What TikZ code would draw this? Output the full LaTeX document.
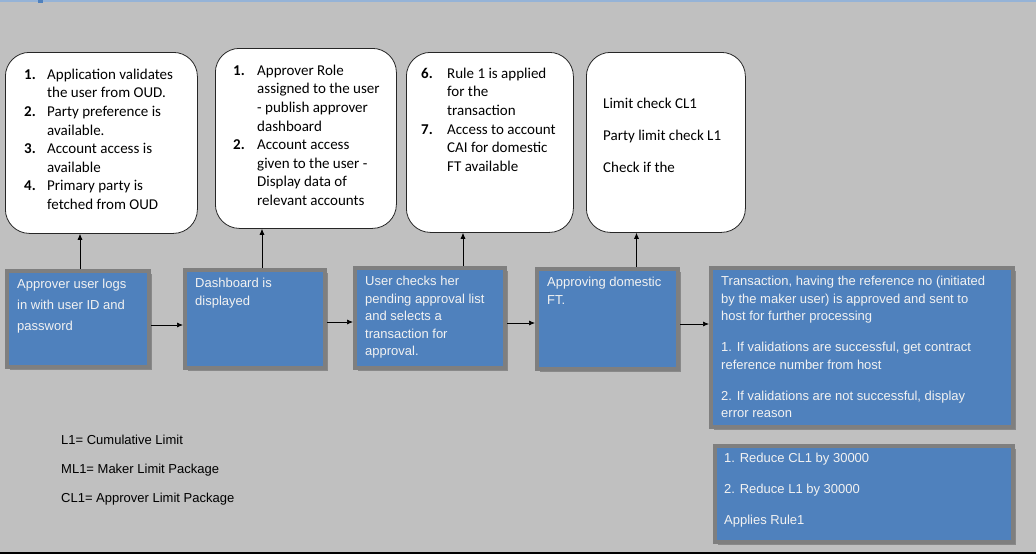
\documentclass[tikz,border=0pt]{standalone}
\usepackage{array}
\usepackage{fontspec}
\setmainfont{Carlito}
\newfontfamily\arialfont{Liberation Sans}
\usetikzlibrary{shadows,arrows.meta}

\definecolor{pagegray}{RGB}{192,192,192}
\definecolor{boxblue}{RGB}{79,129,189}
\definecolor{rimgray}{RGB}{127,127,127}
\definecolor{topblue}{RGB}{149,179,215}
\definecolor{boxtext}{RGB}{242,242,242}

\tikzset{
  callout/.style={draw=black!85, line width=0.8pt, fill=white, rounded corners=24pt, anchor=north west, inner sep=0pt},
  stepbox/.style={draw=rimgray, line width=4pt, fill=boxblue, anchor=north west, inner sep=0pt,
    drop shadow={shadow xshift=3pt, shadow yshift=-3pt, fill=rimgray!85!pagegray, opacity=1}},
  notetext/.style={anchor=north west, inner sep=0pt, font=\fontsize{15}{18.6}\selectfont},
  steptext/.style={anchor=north west, inner sep=0pt, text=boxtext, font=\arialfont\fontsize{13}{17.5}\selectfont},
  legend/.style={anchor=north west, inner sep=0pt, font=\arialfont\fontsize{13}{17.5}\selectfont},
  arr/.style={-{Latex[length=6pt,width=5pt]}, line width=0.7pt},
}

\begin{document}
\begin{tikzpicture}[x=1pt, y=-1pt]
  \useasboundingbox (0,0) rectangle (1036,554);
  \fill[pagegray] (0,0) rectangle (1036,554);
  \draw[topblue, line width=2pt] (0,1) -- (1036,1);
  \fill[boxblue] (38,0) rectangle (43,3);
  \draw[black, line width=1.5pt] (0,553) -- (1036,553);

  % callouts on top
  \node[callout, minimum width=192pt, minimum height=181pt] (note1) at (5,52) {};
  \node[callout, minimum width=181pt, minimum height=180pt] (note2) at (215,48) {};
  \node[callout, minimum width=167pt, minimum height=180pt] (note3) at (406,52) {};
  \node[callout, minimum width=159pt, minimum height=180pt] (note4) at (586,52) {};

  \node[notetext] (note1txt) at (24,66) {\begin{tabular}{@{}>{\bfseries}p{23pt}@{}l@{}}
    1. & Application validates\\ & the user from OUD.\\
    2. & Party preference is\\ & available.\\
    3. & Account access is\\ & available\\
    4. & Primary party is\\ & fetched from OUD\end{tabular}};
  \node[notetext] (note2txt) at (233,62) {\begin{tabular}{@{}>{\bfseries}p{24pt}@{}l@{}}
    1. & Approver Role\\ & assigned to the user\\ & - publish approver\\ & dashboard\\
    2. & Account access\\ & given to the user -\\ & Display data of\\ & relevant accounts\end{tabular}};
  \node[notetext] (note3txt) at (421,65) {\begin{tabular}{@{}>{\bfseries}p{26pt}@{}l@{}}
    6. & Rule 1 is applied\\ & for the\\ & transaction\\
    7. & Access to account\\ & CAI for domestic\\ & FT available\end{tabular}};
  \node[notetext] (note4txt) at (603,95) {\begin{tabular}{@{}l@{}}
    Limit check CL1\\[13.4pt] Party limit check L1\\[13.4pt] Check if the\end{tabular}};

  % process steps
  \node[stepbox, minimum width=142pt, minimum height=96pt] (login) at (5,269) {};
  \node[stepbox, minimum width=140pt, minimum height=98pt] (dash) at (183,268) {};
  \node[stepbox, minimum width=150pt, minimum height=100pt] (pick) at (353,266) {};
  \node[stepbox, minimum width=141pt, minimum height=100pt] (approve) at (535,267) {};
  \node[stepbox, minimum width=302pt, minimum height=159pt] (result) at (709,266) {};
  \node[stepbox, minimum width=298pt, minimum height=96pt] (reduce) at (713,444) {};

  \node[steptext, font=\arialfont\fontsize{13}{21}\selectfont] (logintxt) at (17,274) {\begin{tabular}{@{}l@{}}
    Approver user logs\\ in with user ID and\\ password\end{tabular}};
  \node[steptext] (dashtxt) at (195,275.4) {\begin{tabular}{@{}l@{}}
    Dashboard is\\ displayed\end{tabular}};
  \node[steptext] (picktxt) at (365,273.4) {\begin{tabular}{@{}l@{}}
    User checks her\\ pending approval list\\ and selects a\\ transaction for\\ approval.\end{tabular}};
  \node[steptext] (approvetxt) at (547,274.4) {\begin{tabular}{@{}l@{}}
    Approving domestic\\ FT.\end{tabular}};
  \node[steptext] (resulttxt) at (721,273.4) {\begin{tabular}{@{}l@{}}
    Transaction, having the reference no (initiated\\ by the maker user) is approved and sent to\\ host for further processing\\[13.5pt]
    1. If validations are successful, get contract\\ reference number from host\\[13.5pt]
    2. If validations are not successful, display\\ error reason\end{tabular}};
  \node[steptext] (reducetxt) at (724,450.4) {\begin{tabular}{@{}l@{}}
    1. Reduce CL1 by 30000\\[13.5pt] 2. Reduce L1 by 30000\\[13.5pt] Applies Rule1\end{tabular}};

  % legend
  \node[legend] (legtxt) at (61,432.4) {\begin{tabular}{@{}l@{}}
    L1= Cumulative Limit\\[11.5pt] ML1= Maker Limit Package\\[11.5pt] CL1= Approver Limit Package\end{tabular}};

  % connectors
  \draw[arr] ([yshift=-6pt]login.east) -- ([yshift=-6pt]login.east -| dash.west);
  \draw[arr] ([yshift=-3pt]dash.east) -- ([yshift=-3pt]dash.east -| pick.west);
  \draw[arr] ([yshift=-5pt]pick.east) -- ([yshift=-5pt]pick.east -| approve.west);
  \draw[arr] ([yshift=-5pt]approve.east) -- ([yshift=-5pt]approve.east -| result.west);

  \draw[arr] ([xshift=2pt]login.north) -- ([xshift=2pt]login.north |- note1.south);
  \draw[arr] ([xshift=7pt]dash.north) -- ([xshift=7pt]dash.north |- note2.south);
  \draw[arr] ([xshift=33pt]pick.north) -- ([xshift=33pt]pick.north |- note3.south);
  \draw[arr] ([xshift=29pt]approve.north) -- ([xshift=29pt]approve.north |- note4.south);
\end{tikzpicture}
\end{document}
